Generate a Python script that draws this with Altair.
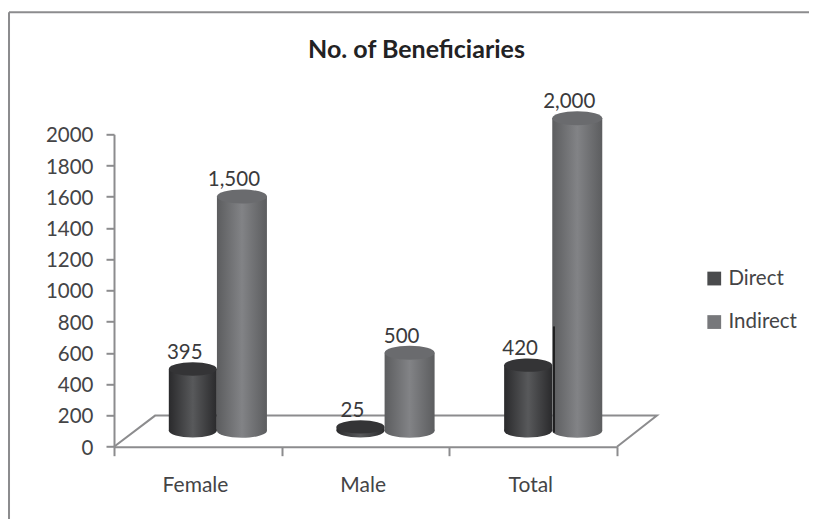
import altair as alt
import pandas as pd

categories = ["Female", "Male", "Total"]
direct = [395, 25, 420]
indirect = [1500, 500, 2000]
value_labels_direct = ["395", "25", "420"]
value_labels_indirect = ["1,500", "500", "2,000"]
floor_x = [0, 0.245, 3.238, 3]
floor_y = [0, 199, 199, 0]

FONT = "Lato"
AXIS = "#8c8c8e"
BASE = 102          # lift of the cylinders above the axis, as in the 3-D projection
OFFSET = {"Direct": 0.47, "Indirect": 0.763}
ELLIPSE = "M-1,0A1,0.28,0,1,1,1,0A1,0.28,0,1,1,-1,0Z"


def grad(edge, mid):
    return alt.Gradient(
        gradient="linear", x1=0, x2=1, y1=0, y2=0,
        stops=[alt.GradientStop(offset=0, color=edge),
               alt.GradientStop(offset=0.5, color=mid),
               alt.GradientStop(offset=1, color=edge)],
    )


rows = []
for i, c in enumerate(categories):
    rows.append(dict(cat=c, series="Direct", value=direct[i], label=value_labels_direct[i],
                     x=i + OFFSET["Direct"], top=direct[i] + BASE, base=BASE))
for i, c in enumerate(categories):
    rows.append(dict(cat=c, series="Indirect", value=indirect[i], label=value_labels_indirect[i],
                     x=i + OFFSET["Indirect"], top=indirect[i] + BASE, base=BASE))
df = pd.DataFrame(rows)

xscale = alt.Scale(domain=[0, 3], nice=False, zero=False, padding=0)
yscale = alt.Scale(domain=[0, 2000], nice=False, padding=0)

label_pos = [i + 0.483 for i in range(3)]
x_values = [0, label_pos[0], 1, label_pos[1], 2, label_pos[2], 3]
label_expr = "".join(
    f"abs(datum.value-{p})<0.001?'{c}':" for p, c in zip(label_pos, categories)
) + "''"

x_axis = alt.Axis(
    values=x_values, labelExpr=label_expr, title=None, grid=False,
    domainColor=AXIS, domainWidth=2, tickColor=AXIS, tickWidth=2, tickSize=9,
    tickOpacity={"condition": {"test": "datum.value%1==0", "value": 1}, "value": 0},
    labelFont=FONT, labelFontSize=21, labelColor="#444446", labelPadding=19,
    labelFlush=False, labelOverlap=False,
)
y_axis = alt.Axis(
    tickCount=11, title=None, grid=False, format="d",
    domainColor=AXIS, domainWidth=2, tickColor=AXIS, tickWidth=2, tickSize=8,
    labelFont=FONT, labelFontSize=20.5, labelColor="#444446", labelPadding=13,
    labelFlush=False, labelOverlap=False, labelOffset=1.5,
)

floor = (
    alt.Chart(pd.DataFrame({"x": floor_x, "y": floor_y, "o": range(4)}))
    .mark_line(color=AXIS, strokeWidth=2, clip=False)
    .encode(
        x=alt.X("x:Q", scale=xscale, axis=x_axis),
        y=alt.Y("y:Q", scale=yscale, axis=y_axis),
        order="o:Q",
    )
)


def cylinder(data, edge, mid, top, width):
    base = alt.Chart(data).mark_point(
        shape=ELLIPSE, size=width ** 2, filled=True, opacity=1, strokeWidth=0, fill=grad(edge, mid)
    ).encode(x=alt.X("x:Q", scale=xscale), y=alt.Y("base:Q", scale=yscale))
    body = alt.Chart(data).mark_bar(size=width, fill=grad(edge, mid), clip=False).encode(
        x=alt.X("x:Q", scale=xscale), y=alt.Y("top:Q", scale=yscale), y2="base:Q"
    )
    cap = alt.Chart(data).mark_point(
        shape=ELLIPSE, size=width ** 2, filled=True, opacity=1, strokeWidth=0, fill=top
    ).encode(x=alt.X("x:Q", scale=xscale), y=alt.Y("top:Q", scale=yscale))
    return [base, body, cap]


d_df = df[df.series == "Direct"]
i_df = df[df.series == "Indirect"]
layers = [floor]
layers += cylinder(d_df, "#2a2a2c", "#58595b", "#343436", 48)
layers += cylinder(i_df, "#5c5d5f", "#828386", "#6a6b6e", 50)

# the dark stroke beside the last Direct cylinder in the source picture
layers.append(
    alt.Chart(pd.DataFrame({"x": [2.624], "y": [770], "y2": [90]}))
    .mark_rule(color="#1f1f20", strokeWidth=2)
    .encode(x=alt.X("x:Q", scale=xscale), y=alt.Y("y:Q", scale=yscale), y2="y2:Q")
)

labels = alt.Chart(df).mark_text(
    font=FONT, fontSize=20.5, color="#3a3a3c", dx=-8, dy=-16, baseline="middle", align="center"
).encode(x=alt.X("x:Q", scale=xscale), y=alt.Y("top:Q", scale=yscale), text="label:N")
layers.append(labels)

legend_layer = (
    alt.Chart(df)
    .mark_square(size=0, opacity=1)
    .encode(
        x=alt.X("x:Q", scale=xscale),
        y=alt.Y("base:Q", scale=yscale),
        color=alt.Color(
            "series:N",
            scale=alt.Scale(domain=["Direct", "Indirect"], range=["#4a4b4d", "#77787b"]),
            legend=alt.Legend(
                title=None, orient="none", legendX=590, legendY=134, symbolType="square",
                symbolSize=190, symbolOpacity=1, symbolStrokeWidth=0,
                labelFont=FONT, labelFontSize=20.5, labelColor="#444446",
                rowPadding=22.5, labelOffset=4,
            ),
        ),
    )
)
layers.append(legend_layer)

frame_left = alt.Chart(pd.DataFrame({"a": [0]})).mark_rule(color=AXIS, strokeWidth=2).encode(
    x=alt.value(-105), y=alt.value(-122), y2=alt.value(390)
)
frame_top = alt.Chart(pd.DataFrame({"a": [0]})).mark_rule(color=AXIS, strokeWidth=2).encode(
    x=alt.value(-105), x2=alt.value(710), y=alt.value(-122)
)
layers += [frame_left, frame_top]

chart = (
    alt.layer(*layers)
    .properties(
        width=503,
        height=312.4,
        background="white",
        padding={"left": 106, "top": 126.3, "right": 192, "bottom": 72},
        autosize=alt.AutoSizeParams(type="none"),
        title=alt.TitleParams(
            "No. of Beneficiaries", font=FONT, fontSize=25, fontWeight="bold", color="#222224",
            anchor="middle", dx=51, offset=-52,
        ),
    )
    .configure_view(stroke=None)
)

chart.save("out.html", embed_options={"renderer": "svg", "actions": False})
